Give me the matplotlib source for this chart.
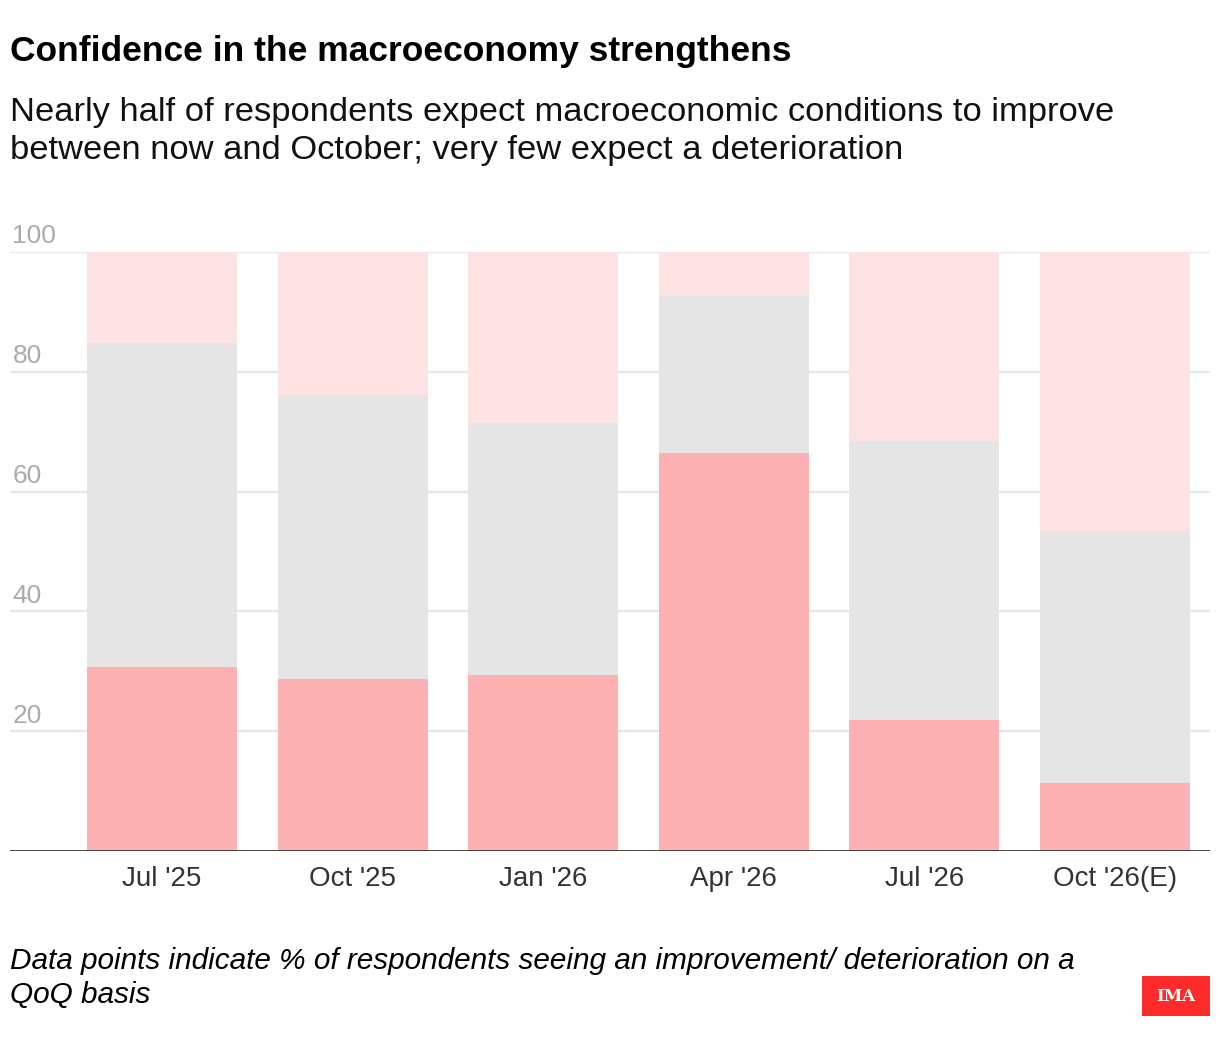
import numpy as np
import matplotlib.pyplot as plt

# survey waves
periods = ["Jul '25", "Oct '25", "Jan '26", "Apr '26", "Jul '26", "Oct '26(E)"]
# % of respondents per answer
deteriorate = [30.8, 28.7, 29.4, 66.4, 21.9, 11.4]
same = [54.0, 47.4, 42.1, 26.3, 46.5, 42.0]
improve = [15.2, 23.9, 28.5, 7.3, 31.6, 46.6]
y_ticks = [20, 40, 60, 80, 100]

c_det = "#fdb1b2"
c_same = "#e5e5e5"
c_imp = "#fde3e4"

plt.rcParams['font.family'] = ['Liberation Sans', 'DejaVu Sans']

fig = plt.figure(figsize=(12.2, 10.5), dpi=100)
ax = fig.add_axes([10 / 1220, 1 - 851 / 1050, 1200 / 1220, 599 / 1050])

x = np.arange(len(periods))
det = np.array(deteriorate)
sm = np.array(same)
imp = np.array(improve)
w = 0.787
ax.bar(x, det, width=w, color=c_det, zorder=2)
ax.bar(x, sm, width=w, bottom=det, color=c_same, zorder=2)
ax.bar(x, imp, width=w, bottom=det + sm, color=c_imp, zorder=2)

ax.set_xlim(-0.797, 5.498)
ax.set_ylim(0, 100)
for t in y_ticks:
    ax.axhline(t, color="#e6e6e6", lw=1.5, zorder=1)
    ax.text(0.002, t + 0.6, str(t), transform=ax.get_yaxis_transform(),
            ha="left", va="bottom", fontsize=19, color="#ababab")
ax.axhline(0, color="#333333", lw=2, zorder=3)

ax.set_yticks([])
ax.set_xticks(x)
ax.set_xticklabels(periods, fontsize=20, color="#333333")
ax.tick_params(axis="x", length=0, pad=11)
for s in ax.spines.values():
    s.set_visible(False)

fig.text(10 / 1220, 1 - 52 / 1050, "Confidence in the macroeconomy strengthens",
         fontsize=25.5, fontweight="bold", va="center", ha="left")
fig.text(10 / 1220, 1 - 113 / 1050,
         "Nearly half of respondents expect macroeconomic conditions to improve",
         fontsize=24.8, va="center", ha="left", color="#111111")
fig.text(10 / 1220, 1 - 151 / 1050,
         "between now and October; very few expect a deterioration",
         fontsize=24.8, va="center", ha="left", color="#111111")
fig.text(10 / 1220, 1 - 961 / 1050,
         "Data points indicate % of respondents seeing an improvement/ deterioration on a",
         fontsize=21.4, style="italic", va="center", ha="left")
fig.text(10 / 1220, 1 - 995 / 1050, "QoQ basis",
         fontsize=21.4, style="italic", va="center", ha="left")

logo = fig.add_axes([1142 / 1220, 1 - 1016 / 1050, 68 / 1220, 40 / 1050])
logo.set_facecolor("#ff2a2a")
logo.set_xticks([])
logo.set_yticks([])
for s in logo.spines.values():
    s.set_visible(False)
logo.text(0.5, 0.48, "IMA", ha="center", va="center", color="white",
          fontsize=12, fontweight="bold", family="DejaVu Serif")

fig.savefig("out.png", dpi=100)
